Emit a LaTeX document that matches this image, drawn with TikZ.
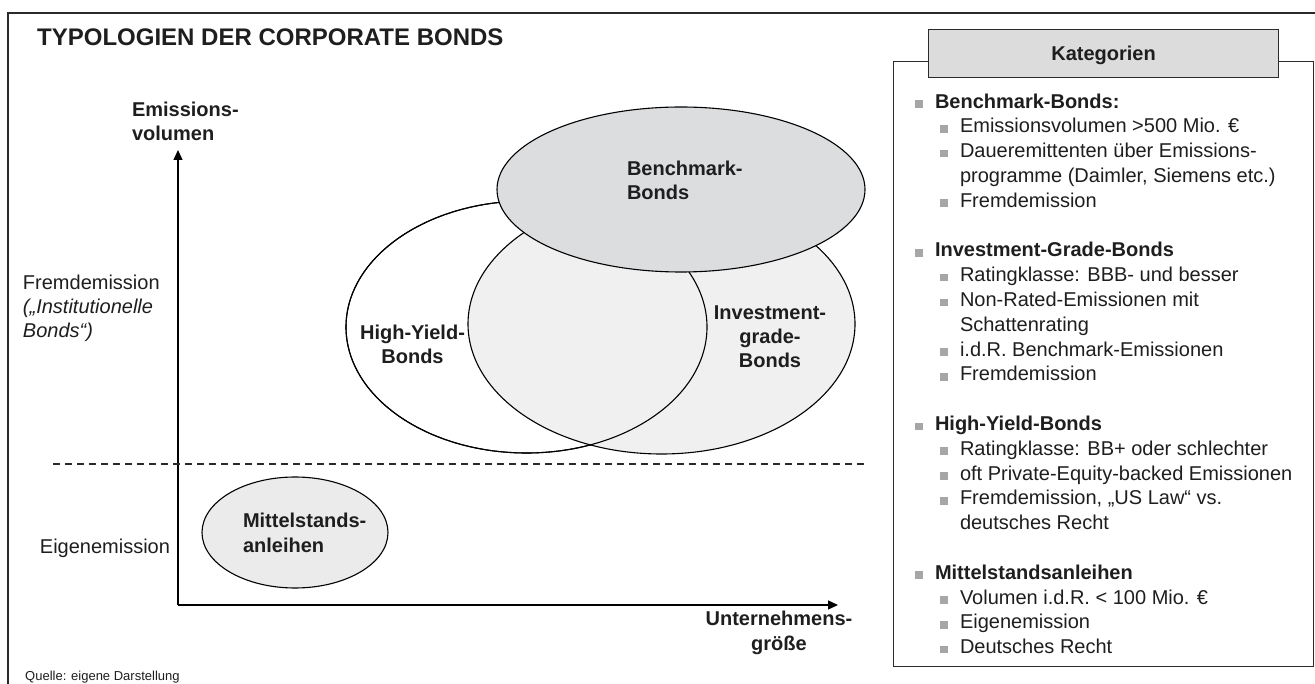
\documentclass[tikz,border=0pt]{standalone}
\usepackage{fontspec}
\setmainfont{Liberation Sans}
\usetikzlibrary{shapes.geometric,arrows.meta}
\definecolor{txt}{HTML}{1E1E1E}
\definecolor{framecol}{HTML}{2A2A2A}
\definecolor{bmfill}{HTML}{DCDDDF}
\definecolor{igfill}{HTML}{F0F0F0}
\definecolor{msfill}{HTML}{EBEBEB}
\definecolor{hdrfill}{HTML}{DCDCDC}
\definecolor{bulgray}{HTML}{A6A6A6}
\newcommand\bsq{\textcolor{bulgray}{\rule[0.3pt]{7.5pt}{7.5pt}}}
\newcommand\katA[1]{\makebox[20pt][l]{\bsq}#1}
\newcommand\katB[1]{\hspace*{25pt}\makebox[20pt][l]{\bsq}#1}
\newcommand\katC[1]{\hspace*{45pt}#1}
\tikzset{
  lbl/.style={inner sep=0pt, outer sep=0pt, text=txt, font=\fontsize{20}{24.3}\selectfont},
  blbl/.style={inner sep=0pt, outer sep=0pt, text=txt, font=\fontsize{20}{24.3}\selectfont\bfseries},
  venn/.style={ellipse, draw=black, line width=1.1pt, inner sep=0pt, outer sep=0pt},
  frameline/.style={draw=framecol, line width=1.5pt},
  axisline/.style={draw=black, line width=1.3pt, -{Triangle[length=10pt,width=9pt]}},
  boxline/.style={draw=framecol, line width=1.2pt},
}
\begin{document}
\begin{tikzpicture}[x=1pt,y=-1pt]
\useasboundingbox (0,0) rectangle (1315,684);
% outer frame
\coordinate (fbl) at (8,684);
\coordinate (ftl) at (8,13);
\coordinate (ftr) at (1315,13);
\draw[frameline] (fbl) -- (ftl) -- (ftr);
% title
\node[inner sep=0pt, text=txt, font=\fontsize{24}{28}\selectfont\bfseries, anchor=base west] (title) at (37,46) {TYPOLOGIEN DER CORPORATE BONDS};
% category box
\node[boxline, fill=white, minimum width=420pt, minimum height=605pt, anchor=north west, inner sep=0pt] (katbox) at (893,61) {};
\node[boxline, fill=hdrfill, minimum width=350pt, minimum height=48pt, anchor=north west, inner sep=0pt, text=txt, text depth=0pt, font=\fontsize{20}{24}\selectfont\bfseries] (kathead) at (928,29) {Kategorien};
\node[lbl, align=left, anchor=base west, font=\fontsize{20}{24.8}\selectfont] (katlist) at (915,653.6) {%
\katA{\textbf{Benchmark-Bonds:}}\\
\katB{Emissionsvolumen >500 Mio. €}\\
\katB{Daueremittenten über Emissions-}\\
\katC{programme (Daimler, Siemens etc.)}\\
\katB{Fremdemission}\\[24.8pt]
\katA{\textbf{Investment-Grade-Bonds}}\\
\katB{Ratingklasse: BBB- und besser}\\
\katB{Non-Rated-Emissionen mit}\\
\katC{Schattenrating}\\
\katB{i.d.R. Benchmark-Emissionen}\\
\katB{Fremdemission}\\[24.8pt]
\katA{\textbf{High-Yield-Bonds}}\\
\katB{Ratingklasse: BB+ oder schlechter}\\
\katB{oft Private-Equity-backed Emissionen}\\
\katB{Fremdemission, „US Law“ vs.}\\
\katC{deutsches Recht}\\[24.8pt]
\katA{\textbf{Mittelstandsanleihen}}\\
\katB{Volumen i.d.R. < 100 Mio. €}\\
\katB{Eigenemission}\\
\katB{Deutsches Recht}};
% axes
\coordinate (origin) at (178,605);
\coordinate (ytip) at (178,150);
\coordinate (xtip) at (838,605);
\draw[axisline] (origin) -- (ytip);
\draw[axisline] (origin) -- (xtip);
% dashed separator
\coordinate (dl) at (53,464);
\coordinate (dr) at (868,464);
\draw[draw=framecol, line width=1.3pt, dash pattern=on 7pt off 5pt] (dl) -- (dr);
% Venn ellipses
\node[venn, fill=white, minimum width=361pt, minimum height=252pt] (hy) at (526.5,327) {};
\node[venn, fill=igfill, minimum width=387pt, minimum height=260pt] (ig) at (661.5,324) {};
\node[venn, minimum width=361pt, minimum height=252pt] (hyo) at (526.5,327) {};
\node[venn, fill=bmfill, minimum width=368pt, minimum height=165pt] (bm) at (681,189.5) {};
\node[venn, fill=msfill, minimum width=186pt, minimum height=111pt] (ms) at (295,532.5) {};
% labels (anchor = baseline of last line)
\node[blbl, align=left, anchor=base west] (bmt) at (627,200) {Benchmark-\\Bonds};
\node[blbl, align=center, anchor=base] (hyt) at (412.5,364) {High-Yield-\\Bonds};
\node[blbl, align=center, anchor=base] (igt) at (770,368) {Investment-\\grade-\\Bonds};
\node[blbl, align=left, anchor=base west] (mst) at (243,552) {Mittelstands-\\anleihen};
\node[blbl, align=left, anchor=base west] (ylab) at (132,141) {Emissions-\\volumen};
\node[blbl, align=center, anchor=base] (xlab) at (779,650) {Unternehmens-\\größe};
\node[lbl, align=left, anchor=base west] (fremd) at (23,338) {Fremdemission\\\textit{(„Institutionelle}\\\textit{Bonds“)}};
\node[lbl, anchor=base east] (eigen) at (170,553) {Eigenemission};
\node[inner sep=0pt, text=txt, font=\fontsize{13}{15}\selectfont, anchor=base west] (src) at (25,680) {Quelle: eigene Darstellung};
\end{tikzpicture}
\end{document}
